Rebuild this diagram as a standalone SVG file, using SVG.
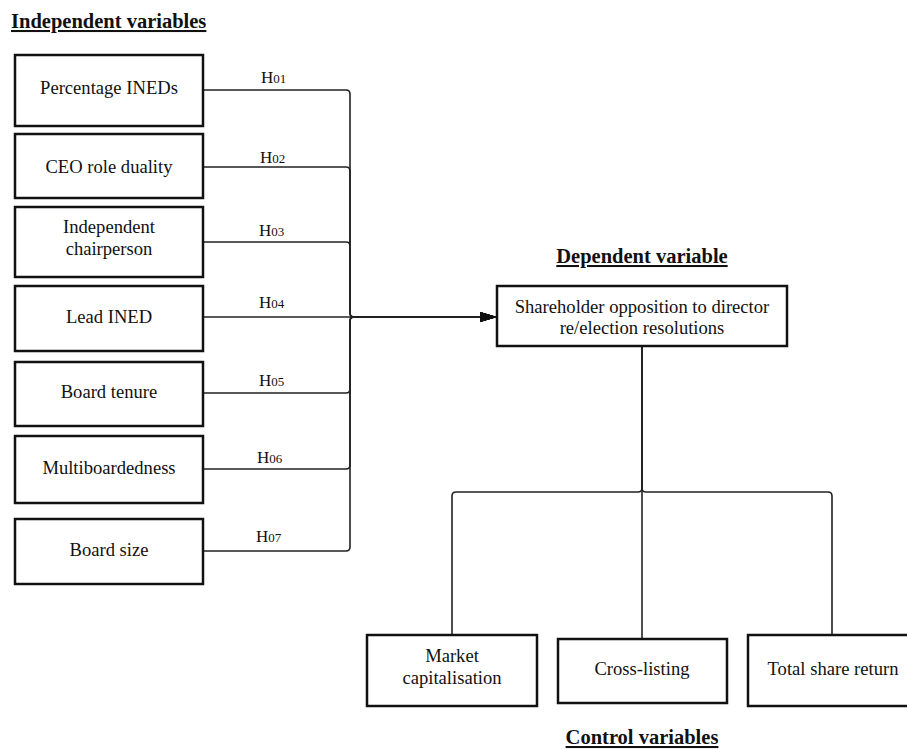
<svg xmlns="http://www.w3.org/2000/svg" width="907" height="749" viewBox="0 0 907 749">
<style>
  text { font-family: "Liberation Serif", "Times New Roman", serif; fill: #111; }
  .lbl { font-size: 18.6px; text-anchor: middle; }
  .hdr { font-size: 20.5px; font-weight: bold; text-decoration: underline; }
  .h { font-size: 17px; }
  .sub { font-size: 13px; }
  .box { fill: #fff; stroke: #111; stroke-width: 2.5; }
  .edge { fill: none; stroke: #222; stroke-width: 1.6; }
</style>
<defs>
  <marker id="arr" markerUnits="userSpaceOnUse" markerWidth="17" markerHeight="10" refX="17" refY="5" orient="auto">
    <path d="M0,0 L17,5 L0,10 z" fill="#111"/>
  </marker>
</defs>
<rect width="907" height="749" fill="#fff"/>

<text class="hdr" x="11" y="28">Independent variables</text>
<text class="hdr" x="642" y="263" text-anchor="middle">Dependent variable</text>
<text class="hdr" x="642" y="744" text-anchor="middle">Control variables</text>

<g id="connectors">
  <path class="edge" d="M203,90 H346 Q350,90 350,94 V313 Q350,317 354,317 H497" marker-end="url(#arr)"/>
  <path class="edge" d="M203,167 H346 Q350,167 350,171 V313 Q350,317 354,317 H497" marker-end="url(#arr)"/>
  <path class="edge" d="M203,242 H346 Q350,242 350,246 V313 Q350,317 354,317 H497" marker-end="url(#arr)"/>
  <path class="edge" d="M203,317 H497" marker-end="url(#arr)"/>
  <path class="edge" d="M203,393 H346 Q350,393 350,389 V321 Q350,317 354,317 H497" marker-end="url(#arr)"/>
  <path class="edge" d="M203,469 H346 Q350,469 350,465 V321 Q350,317 354,317 H497" marker-end="url(#arr)"/>
  <path class="edge" d="M203,551 H346 Q350,551 350,547 V321 Q350,317 354,317 H497" marker-end="url(#arr)"/>
  <path class="edge" d="M642,346 V488 Q642,492 638,492 H456 Q452,492 452,496 V635"/>
  <path class="edge" d="M642,346 V639"/>
  <path class="edge" d="M642,346 V488 Q642,492 646,492 H828 Q832,492 832,496 V635"/>
  <text class="h" x="261" y="83">H<tspan class="sub">01</tspan></text>
  <text class="h" x="260" y="163">H<tspan class="sub">02</tspan></text>
  <text class="h" x="259" y="236">H<tspan class="sub">03</tspan></text>
  <text class="h" x="259" y="308">H<tspan class="sub">04</tspan></text>
  <text class="h" x="259" y="386">H<tspan class="sub">05</tspan></text>
  <text class="h" x="257" y="463">H<tspan class="sub">06</tspan></text>
  <text class="h" x="256" y="542">H<tspan class="sub">07</tspan></text>
</g>

<g id="n1"><rect class="box" x="15" y="55" width="188" height="71"/><text class="lbl" x="109" y="94">Percentage INEDs</text></g>
<g id="n2"><rect class="box" x="15" y="134" width="188" height="64"/><text class="lbl" x="109" y="173">CEO role duality</text></g>
<g id="n3"><rect class="box" x="15" y="207" width="188" height="70"/><text class="lbl" x="109" y="233">Independent</text><text class="lbl" x="109" y="255">chairperson</text></g>
<g id="n4"><rect class="box" x="15" y="286" width="188" height="65"/><text class="lbl" x="109" y="323">Lead INED</text></g>
<g id="n5"><rect class="box" x="15" y="362" width="188" height="64"/><text class="lbl" x="109" y="398">Board tenure</text></g>
<g id="n6"><rect class="box" x="15" y="436" width="188" height="67"/><text class="lbl" x="109" y="474">Multiboardedness</text></g>
<g id="n7"><rect class="box" x="15" y="519" width="188" height="65"/><text class="lbl" x="109" y="556">Board size</text></g>

<g id="dep"><rect class="box" x="497" y="286" width="290" height="60"/><text class="lbl" x="642" y="313">Shareholder opposition to director</text><text class="lbl" x="642" y="334">re/election resolutions</text></g>

<g id="c1"><rect class="box" x="367" y="635" width="170" height="71"/><text class="lbl" x="452" y="662">Market</text><text class="lbl" x="452" y="684">capitalisation</text></g>
<g id="c2"><rect class="box" x="558" y="639" width="169" height="64"/><text class="lbl" x="642" y="675">Cross-listing</text></g>
<g id="c3"><rect class="box" x="748" y="635" width="168" height="71"/><text class="lbl" x="833" y="675">Total share return</text></g>
</svg>
